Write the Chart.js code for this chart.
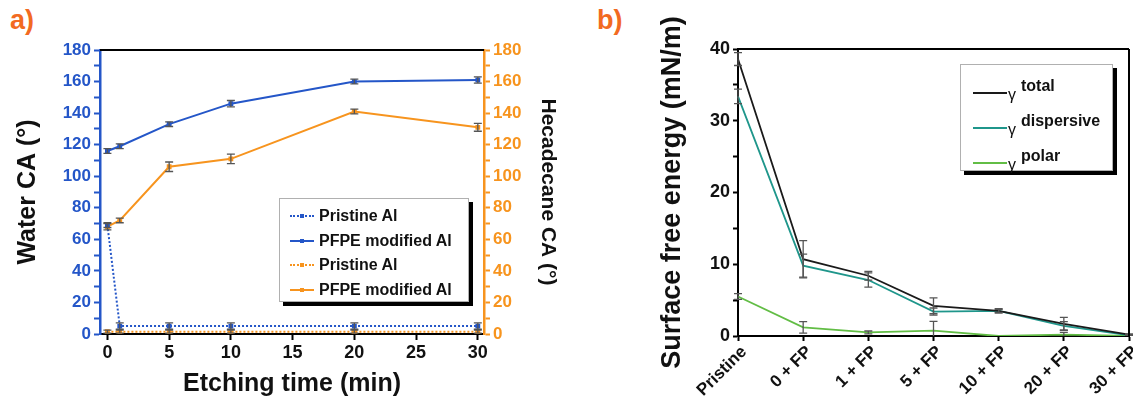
<!DOCTYPE html>
<html>
<head>
<meta charset="utf-8">
<script src="https://cdn.jsdelivr.net/npm/chart.js@4"></script>
<style>
body { margin: 0; background: #fff; width: 1133px; height: 401px; overflow: hidden; position: relative; font-family: "Liberation Sans", Arial, sans-serif; }
canvas { position: absolute; top: 0; }
#chartA { left: 0; }
#chartB { left: 570px; }
.panel { position: absolute; color: #f26a21; font-weight: bold; font-size: 27px; }
.legend { position: absolute; background: #fff; border: 1px solid #b0b0b0; box-shadow: 4px 4px 0 #000; color: #111; box-sizing: border-box; }
#legendA { left: 279px; top: 198px; width: 190px; height: 104px; padding-top: 5px; font-weight: bold; font-size: 16px; }
#legendA .row { height: 24.5px; line-height: 24.5px; display: flex; align-items: center; padding-left: 10px; }
#legendA .sample { width: 24px; height: 0; margin-right: 5px; position: relative; }
#legendA .mark { position: absolute; left: 10px; top: -3px; width: 4px; height: 4px; }
#legendB { left: 960px; top: 64px; width: 153px; height: 107px; padding-top: 6px; }
#legendB .row { height: 35px; display: flex; align-items: center; padding-left: 12px; }
#legendB .sample { width: 34px; height: 0; margin-top: 8px; }
#legendB .g { font-size: 16px; margin-top: 12px; margin-left: 1px; }
#legendB .s { font-size: 16px; font-weight: bold; margin-top: -6px; margin-left: 5px; }
</style>
</head>
<body>
<div class="panel" style="left:10px; top:5px;">a)</div>
<div class="panel" style="left:597px; top:5px;">b)</div>
<canvas id="chartA" width="570" height="401"></canvas>
<canvas id="chartB" width="563" height="401"></canvas>
<div class="legend" id="legendA"></div>
<div class="legend" id="legendB"></div>
<script>
// panel a: contact angles vs etching time
const etchTimes = [0, 1, 5, 10, 20, 30];
const waterPristine = [69, 5, 5, 5, 5, 5];
const waterPristineErr = [1.5, 2, 2, 2, 2, 2];
const waterPFPE = [116, 119, 133, 146, 160, 161];
const waterPFPEErr = [1.5, 1.5, 1.5, 2, 1.5, 2];
const hexPristine = [1.5, 1.5, 1.5, 1.5, 1.5, 1.5];
const hexPristineErr = [1, 1, 1, 1, 1, 1];
const hexPFPE = [68, 72, 106, 111, 141, 131];
const hexPFPEErr = [2, 1.5, 3, 3, 1.5, 2.5];
const angleLabels = [0, 20, 40, 60, 80, 100, 120, 140, 160, 180];
const timeLabels = [0, 5, 10, 15, 20, 25, 30];

// panel b: surface free energy
const treatments = ['Pristine', '0 + FP', '1 + FP', '5 + FP', '10 + FP', '20 + FP', '30 + FP'];
const gammaTotal = [38.6, 10.7, 8.4, 4.2, 3.5, 1.7, 0.2];
const gammaTotalErr = [0.9, 2.6, 0.6, 1.1, 0.2, 0.9, 0.1];
const gammaDisp = [33.4, 9.8, 7.8, 3.4, 3.5, 1.4, 0.1];
const gammaDispErr = [1.0, 1.6, 1.0, 0.5, 0.3, 0.6, 0.1];
const gammaPolar = [5.5, 1.2, 0.5, 0.75, 0.0, 0.2, 0.0];
const gammaPolarErr = [0.4, 0.8, 0.2, 1.3, 0, 0.3, 0];
const energyLabels = [0, 10, 20, 30, 40];

const blue = '#2456c8';
const orange = '#f7941e';
const fontFam = '"Liberation Sans", Arial, sans-serif';

const errorBars = {
    id: 'errorBars',
    afterDatasetsDraw(chart) {
        const ctx = chart.ctx;
        const area = chart.chartArea;
        ctx.save();
        ctx.beginPath();
        ctx.rect(area.left - 6, area.top, area.right - area.left + 12, area.bottom - area.top);
        ctx.clip();
        ctx.strokeStyle = '#555';
        ctx.lineWidth = 1.3;
        chart.data.datasets.forEach((ds, i) => {
            if (!ds.errors) return;
            const meta = chart.getDatasetMeta(i);
            const yScale = chart.scales[meta.yAxisID];
            meta.data.forEach((pt, j) => {
                const e = ds.errors[j];
                if (!e) return;
                const d = ds.data[j];
                const v = typeof d === 'object' ? d.y : d;
                const top = yScale.getPixelForValue(v + e);
                const bot = yScale.getPixelForValue(v - e);
                ctx.beginPath();
                ctx.moveTo(pt.x, top); ctx.lineTo(pt.x, bot);
                ctx.moveTo(pt.x - 4, top); ctx.lineTo(pt.x + 4, top);
                ctx.moveTo(pt.x - 4, bot); ctx.lineTo(pt.x + 4, bot);
                ctx.stroke();
            });
        });
        ctx.restore();
    }
};

const frame = {
    id: 'frame',
    afterDraw(chart, args, opts) {
        const ctx = chart.ctx;
        const a = chart.chartArea;
        ctx.save();
        ctx.strokeStyle = '#000';
        ctx.lineWidth = 2;
        ctx.beginPath();
        ctx.moveTo(a.left, a.top); ctx.lineTo(a.right, a.top);
        if (opts.right) { ctx.moveTo(a.right, a.top); ctx.lineTo(a.right, a.bottom); }
        ctx.stroke();
        ctx.restore();
    }
};

function pts(xs, ys) {
    return xs.map((x, i) => ({ x: x, y: ys[i] }));
}

const ctxA = document.getElementById('chartA').getContext('2d');
const chartA = new Chart(ctxA, {
    type: 'line',
    data: {
        datasets: [
            { label: 'Pristine Al', data: pts(etchTimes, waterPristine), errors: waterPristineErr, yAxisID: 'y',
              borderColor: blue, backgroundColor: blue, borderWidth: 2, borderDash: [2, 2], pointRadius: 2, pointStyle: 'rect' },
            { label: 'PFPE modified Al', data: pts(etchTimes, waterPFPE), errors: waterPFPEErr, yAxisID: 'y',
              borderColor: blue, backgroundColor: blue, borderWidth: 2, pointRadius: 2, pointStyle: 'rect' },
            { label: 'Pristine Al', data: pts(etchTimes, hexPristine), errors: hexPristineErr, yAxisID: 'y1',
              borderColor: orange, backgroundColor: orange, borderWidth: 2, borderDash: [2, 2], pointRadius: 2, pointStyle: 'rect' },
            { label: 'PFPE modified Al', data: pts(etchTimes, hexPFPE), errors: hexPFPEErr, yAxisID: 'y1',
              borderColor: orange, backgroundColor: orange, borderWidth: 2, pointRadius: 2, pointStyle: 'rect' }
        ]
    },
    options: {
        responsive: false,
        animation: false,
        layout: { padding: { top: 50, left: 0, right: 0, bottom: 0 } },
        plugins: { legend: { display: false }, tooltip: { enabled: false }, frame: { right: false } },
        scales: {
            x: {
                type: 'linear', min: -0.6, max: 30.5,
                afterFit: (s) => { s.height = 67; },
                afterBuildTicks: (s) => { s.ticks = timeLabels.map(v => ({ value: v })); },
                grid: { display: true, drawOnChartArea: false, tickLength: 6, tickColor: '#000', tickWidth: 2 },
                border: { display: true, color: '#000', width: 2 },
                ticks: { color: '#111', font: { family: fontFam, size: 18, weight: 'bold' }, padding: 2, maxRotation: 0 },
                title: { display: true, text: 'Etching time (min)', color: '#111',
                         font: { family: fontFam, size: 25, weight: 'bold' }, padding: { top: 0, bottom: 2 } }
            },
            y: {
                position: 'left', min: 0, max: 180,
                afterFit: (s) => { s.width = 100; },
                ticks: { stepSize: 10, autoSkip: false, color: blue, padding: 3,
                         font: { family: fontFam, size: 17, weight: 'bold' },
                         callback: (v) => angleLabels.includes(v) ? v : '' },
                grid: { display: true, drawOnChartArea: false, tickLength: 6, tickColor: blue, tickWidth: 2 },
                border: { display: true, color: blue, width: 2.5 },
                title: { display: true, text: 'Water CA (°)', color: '#111',
                         font: { family: fontFam, size: 25, weight: 'bold' }, padding: { top: 13, bottom: 0 } }
            },
            y1: {
                position: 'right', min: 0, max: 180,
                afterFit: (s) => { s.width = 86; },
                ticks: { stepSize: 10, autoSkip: false, color: orange, padding: 3,
                         font: { family: fontFam, size: 17, weight: 'bold' },
                         callback: (v) => angleLabels.includes(v) ? v : '' },
                grid: { display: true, drawOnChartArea: false, tickLength: 6, tickColor: orange, tickWidth: 2 },
                border: { display: true, color: orange, width: 2.5 },
                title: { display: true, text: 'Hecadecane CA (°)', color: '#111',
                         font: { family: fontFam, size: 21, weight: 'bold' }, padding: { top: 10, bottom: 0 } }
            }
        }
    },
    plugins: [errorBars, frame]
});

const ctxB = document.getElementById('chartB').getContext('2d');
const chartB = new Chart(ctxB, {
    type: 'line',
    data: {
        labels: treatments,
        datasets: [
            { label: 'total', data: gammaTotal, errors: gammaTotalErr, borderColor: '#1a1a1a', backgroundColor: '#1a1a1a', borderWidth: 1.8, pointRadius: 0 },
            { label: 'dispersive', data: gammaDisp, errors: gammaDispErr, borderColor: '#1f968b', backgroundColor: '#1f968b', borderWidth: 1.8, pointRadius: 0 },
            { label: 'polar', data: gammaPolar, errors: gammaPolarErr, borderColor: '#62bd45', backgroundColor: '#62bd45', borderWidth: 1.8, pointRadius: 0 }
        ]
    },
    options: {
        responsive: false,
        animation: false,
        layout: { padding: { top: 49, left: 0, right: 4, bottom: 0 } },
        plugins: { legend: { display: false }, tooltip: { enabled: false }, frame: { right: true } },
        scales: {
            x: {
                offset: false,
                afterFit: (s) => { s.height = 65; s.paddingRight = 0; s.paddingLeft = 0; },
                grid: { display: true, drawOnChartArea: false, tickLength: 5, tickColor: '#000', tickWidth: 2 },
                border: { display: true, color: '#000', width: 2 },
                ticks: { autoSkip: false, minRotation: 45, maxRotation: 45, color: '#111', padding: 1, labelOffset: 6,
                         font: { family: fontFam, size: 17, weight: 'bold' } }
            },
            y: {
                min: 0, max: 40,
                afterFit: (s) => { s.width = 168; },
                ticks: { stepSize: 5, autoSkip: false, color: '#111', padding: 3,
                         font: { family: fontFam, size: 18, weight: 'bold' },
                         callback: (v) => energyLabels.includes(v) ? v : '' },
                grid: { display: true, drawOnChartArea: false, tickLength: 5, tickColor: '#000', tickWidth: 2 },
                border: { display: true, color: '#000', width: 2 },
                title: { display: true, text: 'Surface free energy (mN/m)', color: '#111',
                         font: { family: fontFam, size: 27, weight: 'bold' }, padding: { top: 86, bottom: 0 } }
            }
        }
    },
    plugins: [errorBars, frame]
});

// legends built from the chart datasets
const legendA = document.getElementById('legendA');
chartA.data.datasets.forEach((ds) => {
    const row = document.createElement('div');
    row.className = 'row';
    const sample = document.createElement('span');
    sample.className = 'sample';
    sample.style.borderTop = '2px ' + (ds.borderDash ? 'dotted ' : 'solid ') + ds.borderColor;
    const mark = document.createElement('span');
    mark.className = 'mark';
    mark.style.background = ds.borderColor;
    sample.append(mark);
    const text = document.createElement('span');
    text.textContent = ds.label;
    row.append(sample, text);
    legendA.append(row);
});

const legendB = document.getElementById('legendB');
chartB.data.datasets.forEach((ds) => {
    const row = document.createElement('div');
    row.className = 'row';
    const sample = document.createElement('span');
    sample.className = 'sample';
    sample.style.borderTop = '2px solid ' + ds.borderColor;
    const g = document.createElement('span');
    g.className = 'g';
    g.textContent = 'γ';
    const s = document.createElement('span');
    s.className = 's';
    s.textContent = ds.label;
    row.append(sample, g, s);
    legendB.append(row);
});
</script>
</body>
</html>
